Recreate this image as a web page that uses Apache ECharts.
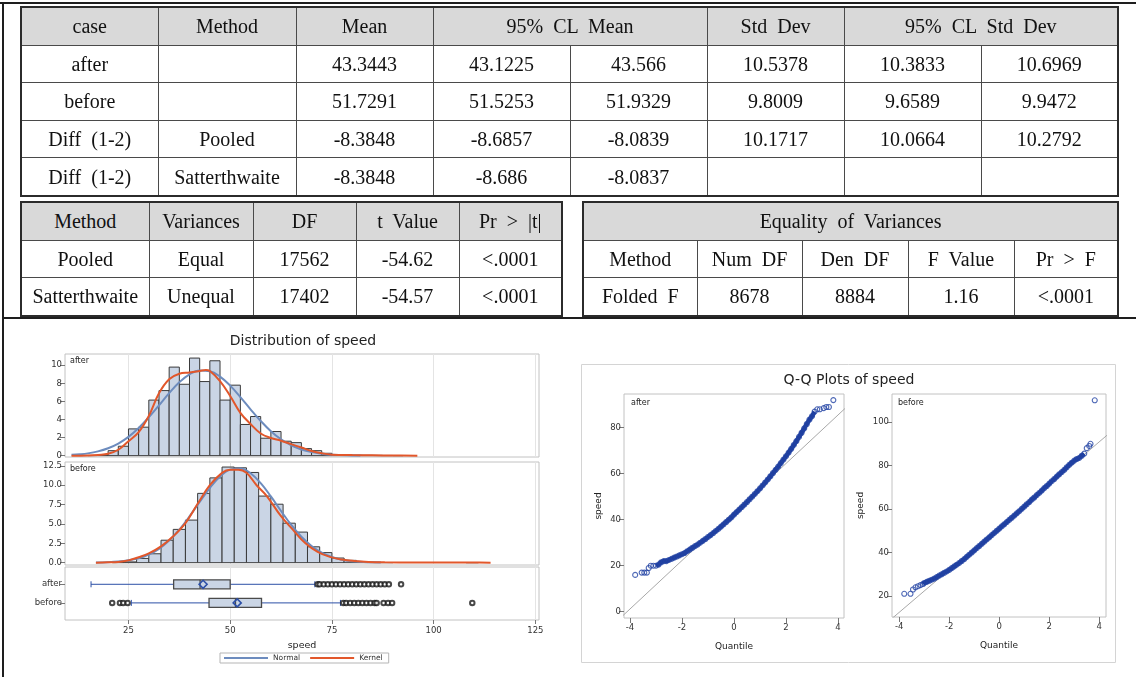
<!DOCTYPE html>
<html><head><meta charset="utf-8">
<script src="https://cdn.jsdelivr.net/npm/echarts@6/dist/echarts.min.js"></script>
<style>
html,body{margin:0;padding:0;background:#fff;}
#wrap{position:relative;width:1136px;height:677px;overflow:hidden;background:#fff;}
#chart{position:absolute;left:0;top:0;width:1136px;height:677px;}
table.t{position:absolute;border-collapse:collapse;table-layout:fixed;font-family:"Liberation Serif","DejaVu Serif",serif;font-size:20px;color:#111;border:2px solid #2b2b2b;}
table.t td{border:1px solid #4a4a4a;text-align:center;padding:0;white-space:nowrap;word-spacing:5px;overflow:hidden;line-height:20px;}
table.t tr.h td{background:#d9d9d9;}
.ln{position:absolute;background:#1e1e1e;}
</style></head>
<body>
<div id="wrap">
  <div id="chart"></div>
  <div class="ln" style="left:0;top:2px;width:1136px;height:2px;"></div>
  <div class="ln" style="left:2px;top:2px;width:2px;height:675px;"></div>
  <div class="ln" style="left:2px;top:317px;width:1134px;height:2px;"></div>
</div>
<script>
// ---------- table contents ----------
const ttestHeader = ['case', 'Method', 'Mean', '95% CL Mean', 'Std Dev', '95% CL Std Dev'];
const ttestRows = [
  ['after', '', '43.3443', '43.1225', '43.566', '10.5378', '10.3833', '10.6969'],
  ['before', '', '51.7291', '51.5253', '51.9329', '9.8009', '9.6589', '9.9472'],
  ['Diff (1-2)', 'Pooled', '-8.3848', '-8.6857', '-8.0839', '10.1717', '10.0664', '10.2792'],
  ['Diff (1-2)', 'Satterthwaite', '-8.3848', '-8.686', '-8.0837', '', '', '']
];
const testHeader = ['Method', 'Variances', 'DF', 't Value', 'Pr > |t|'];
const testRows = [
  ['Pooled', 'Equal', '17562', '-54.62', '<.0001'],
  ['Satterthwaite', 'Unequal', '17402', '-54.57', '<.0001']
];
const eqTitle = 'Equality of Variances';
const eqHeader = ['Method', 'Num DF', 'Den DF', 'F Value', 'Pr > F'];
const eqRows = [['Folded F', '8678', '8884', '1.16', '<.0001']];

// ---------- histogram data (percent per bin) ----------
const afterBinWidth = 2.5;
const afterBinLo = [15, 17.5, 20, 22.5, 25, 27.5, 30, 32.5, 35, 37.5, 40, 42.5, 45, 47.5, 50, 52.5, 55, 57.5, 60, 62.5, 65, 67.5, 70, 72.5, 75, 77.5, 80, 82.5, 85, 87.5, 90];
const afterPct = [0.02, 0.1, 0.55, 1.04, 2.96, 3.15, 6.15, 7.2, 9.8, 7.9, 10.8, 8.2, 10.5, 6.15, 7.8, 3.45, 4.33, 1.93, 2.67, 1.6, 1.44, 0.78, 0.55, 0.26, 0.12, 0.08, 0.05, 0.04, 0.03, 0.02, 0.01];
const beforeBinWidth = 3;
const beforeBinLo = [21, 24, 27, 30, 33, 36, 39, 42, 45, 48, 51, 54, 57, 60, 63, 66, 69, 72, 75, 78, 81, 84, 87, 108];
const beforePct = [0.02, 0.1, 0.55, 1.15, 2.9, 4.3, 5.5, 8.95, 10.95, 12.35, 12.25, 11.65, 8.6, 7.55, 5.1, 3.95, 2.05, 1.3, 0.6, 0.3, 0.12, 0.05, 0.02, 0.01];

// ---------- density curves ----------
const normalAfter = [[11,0.09],[13,0.15],[15,0.25],[17.5,0.47],[20,0.82],[22.5,1.34],[25,2.08],[27.5,3.06],[30,4.25],[32.5,5.57],[35,6.92],[37.5,8.12],[40,9.0],[42.5,9.43],[45,9.34],[47.5,8.75],[50,7.75],[52.5,6.48],[55,5.13],[57.5,3.84],[60,2.71],[62.5,1.81],[65,1.14],[67.5,0.68],[70,0.39],[72.5,0.21],[75,0.1],[80,0.02],[82,0.01]];
const kernelAfter = [[11,0],[15,0.02],[17.5,0.08],[20,0.2],[22.5,0.65],[25,1.6],[27.5,2.6],[30,4.4],[32.5,6.9],[35,8.45],[37.5,9.07],[40,9.2],[42.5,9.37],[44,9.48],[45,9.37],[47.5,8.26],[50,6.6],[52.5,4.74],[55,3.5],[57.5,2.45],[60,1.95],[62.5,1.65],[65,1.27],[67.5,0.9],[70,0.52],[72.5,0.26],[75,0.11],[80,0.06],[85,0.04],[90,0.02],[96,0]];
const normalBefore = [[17,0.02],[20,0.06],[22.5,0.14],[25,0.3],[27.5,0.58],[30,1.05],[32.5,1.78],[35,2.85],[37.5,4.26],[40,5.97],[42.5,7.84],[45,9.64],[47.5,11.13],[50,12.02],[52.5,12.17],[55,11.55],[57.5,10.27],[60,8.55],[62.5,6.67],[65,4.88],[67.5,3.34],[70,2.15],[72.5,1.29],[75,0.73],[77.5,0.38],[80,0.19],[85,0.04],[87,0.02]];
const kernelBefore = [[17,0],[20,0.04],[22.5,0.1],[25,0.3],[27.5,0.7],[30,1.2],[33,2.1],[36,3.4],[39,5.1],[42,7.6],[45,10.0],[48,11.6],[50,12.0],[52,12.0],[54,11.6],[56.5,10.0],[59,8.6],[62.5,6.0],[65.5,4.2],[68.5,2.5],[71.5,1.4],[74.5,0.75],[77.5,0.4],[80.5,0.22],[84,0.1],[88,0.05],[95,0.02],[105,0.01],[110,0.01],[114,0]];

// ---------- box plot ----------
const boxCats = ['after', 'before'];
// [position, whiskerLow, Q1, median, Q3, whiskerHigh, mean]
const boxStats = [
  [1, 15.8, 36.1, 42.6, 50.0, 70.8, 43.34],
  [2, 25.7, 44.8, 51.3, 57.7, 77.1, 51.73]
];
const outliersAfter = [71.5, 72, 73, 74, 75, 76, 77, 78, 79, 80, 81, 82, 83, 84, 85, 86, 87, 88, 89, 92];
const outliersBefore = [21, 22.9, 23.7, 24.8, 77.8, 78.5, 79.5, 80.5, 81.5, 82.5, 83.5, 84.5, 85.5, 86, 87.7, 88.8, 89.8, 109.5];

// ---------- Q-Q plots (normal quantile, speed) ----------
const qqAfter = [[-3.8,16],[-3.55,17],[-3.45,17],[-3.35,17],[-3.28,19],[-3.2,20],[-3.1,20],
 [-3.0,20],[-2.9,20.5],[-2.8,21.5],[-2.7,22],[-2.6,22],[-2.5,22.5],[-2.4,23],[-2.3,23.5],[-2.2,24],[-2.1,24.5],
 [-2.0,25],[-1.9,25.5],[-1.8,26.3],[-1.7,27],[-1.6,27.8],[-1.5,28.5],[-1.4,29.2],[-1.3,30],[-1.2,30.8],[-1.1,31.6],
 [-1.0,32.5],[-0.9,33.3],[-0.8,34.2],[-0.7,35.1],[-0.6,36.0],[-0.5,37.0],[-0.4,38.0],[-0.3,39.0],[-0.2,40.0],[-0.1,41.0],
 [0.0,42.2],[0.1,43.3],[0.2,44.4],[0.3,45.5],[0.4,46.6],[0.5,47.7],[0.6,48.9],[0.7,50.0],[0.8,51.2],[0.9,52.4],
 [1.0,53.6],[1.1,54.9],[1.2,56.2],[1.3,57.5],[1.4,58.9],[1.5,60.3],[1.6,61.7],[1.7,63.1],[1.8,64.6],[1.9,66.1],
 [2.0,67.6],[2.1,69.2],[2.2,70.8],[2.3,72.5],[2.4,74.2],[2.5,76.0],[2.6,77.8],[2.7,79.7],[2.8,81.6],[2.9,83.5],
 [3.0,85.0],[3.1,87],[3.2,88],[3.3,88],[3.45,88.5],[3.55,89],[3.65,89],[3.82,92]];
const qqBefore = [[-3.8,21],[-3.55,21],[-3.45,23],[-3.35,24],[-3.25,24.5],[-3.15,25],[-3.05,25.5],
 [-3.0,26],[-2.9,26.5],[-2.8,27],[-2.7,27.5],[-2.6,28],[-2.5,28.7],[-2.4,29.4],[-2.3,30],[-2.2,30.7],[-2.1,31.3],
 [-2.0,32],[-1.9,32.8],[-1.8,33.6],[-1.7,34.4],[-1.6,35.2],[-1.5,36.1],[-1.4,37],[-1.3,38],[-1.2,39],[-1.1,40],
 [-1.0,41],[-0.9,42],[-0.8,43],[-0.7,44],[-0.6,45],[-0.5,46],[-0.4,47],[-0.3,48],[-0.2,49],[-0.1,50],
 [0.0,51],[0.1,52],[0.2,53],[0.3,54],[0.4,55],[0.5,56],[0.6,57],[0.7,58],[0.8,59],[0.9,60.1],
 [1.0,61.1],[1.1,62.2],[1.2,63.2],[1.3,64.3],[1.4,65.3],[1.5,66.4],[1.6,67.4],[1.7,68.5],[1.8,69.6],[1.9,70.6],
 [2.0,71.7],[2.1,72.8],[2.2,73.8],[2.3,74.9],[2.4,76],[2.5,77],[2.6,78],[2.7,79.2],[2.8,80.3],[2.9,81.3],
 [3.0,82.3],[3.1,83],[3.2,83.5],[3.3,84.5],[3.4,85.5],[3.5,88],[3.6,89],[3.65,90],[3.82,110]];
const qqRefAfter = [[-4.5,-4.1],[4.5,90.8]];
const qqRefBefore = [[-4.5,7.6],[4.5,95.8]];

// ---------- tick labels ----------
const speedTicks = [25, 50, 75, 100, 125];
const afterPctTicks = [0, 2, 4, 6, 8, 10];
const beforePctTicks = [0, 2.5, 5, 7.5, 10, 12.5];
const qqXTicks = [-4, -2, 0, 2, 4];
const qqAfterYTicks = [0, 20, 40, 60, 80];
const qqBeforeYTicks = [20, 40, 60, 80, 100];

// ---------- build tables ----------
function mkTable(left, top, widths, rowH) {
  const t = document.createElement('table');
  t.className = 't';
  t.style.left = left + 'px'; t.style.top = top + 'px';
  const cg = document.createElement('colgroup');
  widths.forEach(w => { const c = document.createElement('col'); c.style.width = w + 'px'; cg.appendChild(c); });
  t.appendChild(cg);
  t.style.width = widths.reduce((a, b) => a + b, 0) + 'px';
  document.getElementById('wrap').appendChild(t);
  t._rowH = rowH;
  return t;
}
function addRow(t, cells, header, spans) {
  const tr = document.createElement('tr');
  if (header) tr.className = 'h';
  cells.forEach((txt, i) => {
    const td = document.createElement('td');
    td.textContent = txt;
    td.style.height = t._rowH + 'px';
    if (spans && spans[i] > 1) td.colSpan = spans[i];
    tr.appendChild(td);
  });
  t.appendChild(tr);
}
const t1 = mkTable(20, 6, [137, 138, 137, 137, 137, 137, 137, 137], 36.6);
addRow(t1, ttestHeader, true, [1, 1, 1, 2, 1, 2]);
ttestRows.forEach(r => addRow(t1, r, false));
const t2 = mkTable(20, 201, [128, 104, 103, 103, 103], 36.6);
addRow(t2, testHeader, true);
testRows.forEach(r => addRow(t2, r, false));
const t3 = mkTable(582, 201, [114, 105, 106, 106, 104], 36.6);
addRow(t3, [eqTitle], true, [5]);
addRow(t3, eqHeader, false);
eqRows.forEach(r => addRow(t3, r, false));

// ---------- chart ----------
const FONT = 'DejaVu Sans';
const FILL = '#CAD5E5', EDGE = '#3a3a3a', NORM = '#6D8CBE', KERN = '#E2572B', BLUE = '#2C4FA6', FRAME = '#c2c2c2', QQC = '#1F3FA0';

function histData(lo, w, pct) { return lo.map((v, i) => [v, v + w, pct[i]]); }
function renderHist(params, api) {
  const p0 = api.coord([api.value(0), api.value(2)]);
  const p1 = api.coord([api.value(1), 0]);
  return { type: 'rect', shape: { x: p0[0], y: p0[1], width: p1[0] - p0[0], height: p1[1] - p0[1] },
    style: { fill: FILL, stroke: EDGE, lineWidth: 1 } };
}
function renderBox(params, api) {
  const pos = api.value(0);
  const c = v => api.coord([v, pos]);
  const pLo = c(api.value(1)), pQ1 = c(api.value(2)), pMed = c(api.value(3)), pQ3 = c(api.value(4)), pHi = c(api.value(5)), pMn = c(api.value(6));
  const y = pLo[1], hh = 4.5, cap = 3, d = 4;
  return { type: 'group', children: [
    { type: 'line', shape: { x1: pLo[0], y1: y, x2: pQ1[0], y2: y }, style: { stroke: BLUE, lineWidth: 1 } },
    { type: 'line', shape: { x1: pQ3[0], y1: y, x2: pHi[0], y2: y }, style: { stroke: BLUE, lineWidth: 1 } },
    { type: 'line', shape: { x1: pLo[0], y1: y - cap, x2: pLo[0], y2: y + cap }, style: { stroke: BLUE, lineWidth: 1 } },
    { type: 'line', shape: { x1: pHi[0], y1: y - cap, x2: pHi[0], y2: y + cap }, style: { stroke: BLUE, lineWidth: 1 } },
    { type: 'rect', shape: { x: pQ1[0], y: y - hh, width: pQ3[0] - pQ1[0], height: 2 * hh }, style: { fill: FILL, stroke: '#4a4a4a', lineWidth: 1.3 } },
    { type: 'line', shape: { x1: pMed[0], y1: y - hh, x2: pMed[0], y2: y + hh }, style: { stroke: '#4a4a4a', lineWidth: 1.3 } },
    { type: 'polygon', shape: { points: [[pMn[0] - d, y], [pMn[0], y - d], [pMn[0] + d, y], [pMn[0], y + d]] }, style: { fill: 'none', stroke: BLUE, lineWidth: 1.6 } }
  ] };
}

const lbl = (extra) => Object.assign({ fontFamily: FONT, fontSize: 8.5, color: '#333' }, extra || {});
const noLine = { show: false, onZero: false };
function hiddenX(grid) {
  return { type: 'value', gridIndex: grid, min: 9.4, max: 125.9,
    axisLine: noLine, axisTick: { show: false, customValues: speedTicks },
    axisLabel: { show: false, customValues: speedTicks },
    splitLine: { show: true, lineStyle: { color: '#e4e4e4', width: 1 } } };
}
function yAx(grid, min, max, ticks, fmt, extra) {
  return Object.assign({ type: 'value', gridIndex: grid, min: min, max: max,
    axisLine: noLine,
    axisTick: { show: true, inside: false, length: 5, customValues: ticks, lineStyle: { color: '#777' } },
    axisLabel: Object.assign(lbl({ margin: 3, customValues: ticks }), fmt ? { formatter: fmt } : {}),
    splitLine: { show: false } }, extra || {});
}

const option = {
  animation: false,
  backgroundColor: 'transparent',
  textStyle: { fontFamily: FONT },
  grid: [
    { left: 65, top: 354, width: 474, height: 103, show: true, borderColor: FRAME, borderWidth: 1 },
    { left: 65, top: 462, width: 474, height: 103, show: true, borderColor: FRAME, borderWidth: 1 },
    { left: 65, top: 567, width: 474, height: 53, show: true, borderColor: FRAME, borderWidth: 1 },
    { left: 624, top: 394, width: 220, height: 224, show: true, borderColor: FRAME, borderWidth: 1 },
    { left: 892, top: 394, width: 214, height: 223, show: true, borderColor: FRAME, borderWidth: 1 }
  ],
  xAxis: [
    hiddenX(0), hiddenX(1),
    { type: 'value', gridIndex: 2, min: 9.4, max: 125.9, axisLine: noLine,
      axisTick: { show: true, length: 4, customValues: speedTicks, lineStyle: { color: '#777' } },
      axisLabel: lbl({ margin: 6, customValues: speedTicks }),
      splitLine: { show: true, lineStyle: { color: '#e4e4e4' } },
      name: 'speed', nameLocation: 'middle', nameGap: 21, nameTextStyle: lbl({ fontSize: 9.5, color: '#222' }) },
    { type: 'value', gridIndex: 3, min: -4.23, max: 4.23, axisLine: noLine,
      axisTick: { show: true, length: 5, customValues: qqXTicks, lineStyle: { color: '#777' } },
      axisLabel: lbl({ margin: 5, customValues: qqXTicks }), splitLine: { show: false },
      name: 'Quantile', nameLocation: 'middle', nameGap: 24, nameTextStyle: lbl({ fontSize: 9, color: '#222' }) },
    { type: 'value', gridIndex: 4, min: -4.29, max: 4.27, axisLine: noLine,
      axisTick: { show: true, length: 5, customValues: qqXTicks, lineStyle: { color: '#777' } },
      axisLabel: lbl({ margin: 5, customValues: qqXTicks }), splitLine: { show: false },
      name: 'Quantile', nameLocation: 'middle', nameGap: 24, nameTextStyle: lbl({ fontSize: 9, color: '#222' }) }
  ],
  yAxis: [
    yAx(0, -0.15, 11.25, afterPctTicks),
    yAx(1, -0.3, 13.0, beforePctTicks, v => v.toFixed(1)),
    yAx(2, 0.07, 2.92, [1, 2], v => boxCats[Math.round(v) - 1], { inverse: true }),
    yAx(3, -2.74, 94.65, qqAfterYTicks, null, { name: 'speed', nameLocation: 'middle', nameGap: 21, nameRotate: 90, nameTextStyle: lbl({ fontSize: 9, color: '#222' }) }),
    yAx(4, 10.34, 112.9, qqBeforeYTicks, null, { name: 'speed', nameLocation: 'middle', nameGap: 27, nameRotate: 90, nameTextStyle: lbl({ fontSize: 9, color: '#222' }) })
  ],
  legend: { data: ['Normal', 'Kernel'], left: 220, top: 653, icon: 'rect', itemWidth: 44, itemHeight: 2, itemGap: 10,
    padding: [1, 6, 1, 4], borderColor: '#b5b5b5', borderWidth: 1, selectedMode: false,
    textStyle: { fontFamily: FONT, fontSize: 7.5, color: '#333' } },
  graphic: [
    { type: 'rect', shape: { x: 581.5, y: 364.5, width: 534, height: 298 }, style: { fill: 'none', stroke: '#d4d4d4', lineWidth: 1 }, z: -1 },
    { type: 'text', x: 303, y: 341, style: { text: 'Distribution of speed', fill: '#222', font: '14px "DejaVu Sans"', align: 'center', verticalAlign: 'middle' } },
    { type: 'text', x: 849, y: 380, style: { text: 'Q-Q Plots of speed', fill: '#222', font: '14px "DejaVu Sans"', align: 'center', verticalAlign: 'middle' } },
    { type: 'text', x: 70, y: 361, style: { text: 'after', fill: '#222', font: '8px "DejaVu Sans"', align: 'left', verticalAlign: 'middle' } },
    { type: 'text', x: 70, y: 469, style: { text: 'before', fill: '#222', font: '8px "DejaVu Sans"', align: 'left', verticalAlign: 'middle' } },
    { type: 'text', x: 631, y: 403, style: { text: 'after', fill: '#222', font: '8px "DejaVu Sans"', align: 'left', verticalAlign: 'middle' } },
    { type: 'text', x: 898, y: 403, style: { text: 'before', fill: '#222', font: '8px "DejaVu Sans"', align: 'left', verticalAlign: 'middle' } }
  ],
  series: [
    { type: 'custom', name: 'histAfter', xAxisIndex: 0, yAxisIndex: 0, renderItem: renderHist, encode: { x: [0, 1], y: 2 }, data: histData(afterBinLo, afterBinWidth, afterPct), z: 2, silent: true },
    { type: 'custom', name: 'histBefore', xAxisIndex: 1, yAxisIndex: 1, renderItem: renderHist, encode: { x: [0, 1], y: 2 }, data: histData(beforeBinLo, beforeBinWidth, beforePct), z: 2, silent: true },
    { type: 'line', name: 'Normal', xAxisIndex: 0, yAxisIndex: 0, data: normalAfter, smooth: 0.4, showSymbol: false, lineStyle: { color: NORM, width: 2 }, itemStyle: { color: NORM }, z: 3 },
    { type: 'line', name: 'Kernel', xAxisIndex: 0, yAxisIndex: 0, data: kernelAfter, smooth: 0.4, showSymbol: false, lineStyle: { color: KERN, width: 2 }, itemStyle: { color: KERN }, z: 4 },
    { type: 'line', name: 'Normal', xAxisIndex: 1, yAxisIndex: 1, data: normalBefore, smooth: 0.4, showSymbol: false, lineStyle: { color: NORM, width: 2 }, itemStyle: { color: NORM }, z: 3 },
    { type: 'line', name: 'Kernel', xAxisIndex: 1, yAxisIndex: 1, data: kernelBefore, smooth: 0.4, showSymbol: false, lineStyle: { color: KERN, width: 2 }, itemStyle: { color: KERN }, z: 4 },
    { type: 'custom', name: 'box', xAxisIndex: 2, yAxisIndex: 2, renderItem: renderBox, encode: { x: [1, 2, 3, 4, 5, 6], y: 0 }, data: boxStats, z: 3, silent: true },
    { type: 'scatter', name: 'outAfter', xAxisIndex: 2, yAxisIndex: 2, data: outliersAfter.map(v => [v, 1]), symbol: 'emptyCircle', symbolSize: 4.5, itemStyle: { color: '#1a1a1a', borderWidth: 1 }, z: 4, silent: true },
    { type: 'scatter', name: 'outBefore', xAxisIndex: 2, yAxisIndex: 2, data: outliersBefore.map(v => [v, 2]), symbol: 'emptyCircle', symbolSize: 4.5, itemStyle: { color: '#1a1a1a', borderWidth: 1 }, z: 4, silent: true },
    { type: 'line', name: 'refAfter', xAxisIndex: 3, yAxisIndex: 3, data: qqRefAfter, showSymbol: false, lineStyle: { color: '#a8a8a8', width: 1 }, clip: true, silent: true, z: 2 },
    { type: 'line', name: 'refBefore', xAxisIndex: 4, yAxisIndex: 4, data: qqRefBefore, showSymbol: false, lineStyle: { color: '#a8a8a8', width: 1 }, clip: true, silent: true, z: 2 },
    { type: 'line', name: 'bandAfter', xAxisIndex: 3, yAxisIndex: 3, data: qqAfter.filter(p => p[0] >= -3.0 && p[0] <= 3.1), showSymbol: false, smooth: 0.3, lineStyle: { color: QQC, width: 4.5 }, silent: true, z: 3 },
    { type: 'line', name: 'bandBefore', xAxisIndex: 4, yAxisIndex: 4, data: qqBefore.filter(p => p[0] >= -3.05 && p[0] <= 3.4), showSymbol: false, smooth: 0.3, lineStyle: { color: QQC, width: 4.5 }, silent: true, z: 3 },
    { type: 'scatter', name: 'qqAfter', xAxisIndex: 3, yAxisIndex: 3, data: qqAfter, symbol: 'circle', symbolSize: 5, itemStyle: { color: 'rgba(255,255,255,0)', borderColor: '#2343A4', borderWidth: 1.1 }, z: 4, silent: true },
    { type: 'scatter', name: 'qqBefore', xAxisIndex: 4, yAxisIndex: 4, data: qqBefore, symbol: 'circle', symbolSize: 5, itemStyle: { color: 'rgba(255,255,255,0)', borderColor: '#2343A4', borderWidth: 1.1 }, z: 4, silent: true }
  ]
};
const chart = echarts.init(document.getElementById('chart'), null, { renderer: 'canvas' });
chart.setOption(option);
</script>
</body></html>
